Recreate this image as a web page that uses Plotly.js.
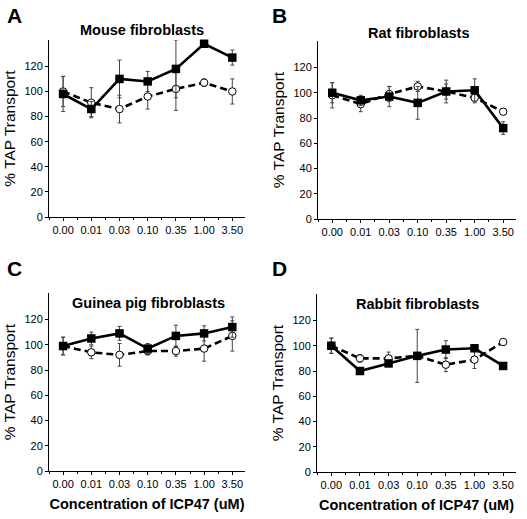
<!DOCTYPE html>
<html><head><meta charset="utf-8">
<script src="https://cdn.plot.ly/plotly-3.0.1.min.js"></script>
<style>html,body{margin:0;padding:0;background:#fff}#chart{width:527px;height:519px}</style>
</head><body><div id="chart"></div>
<script>
// Tick labels (ICP47 concentration, uM)
const concentrations = ["0.00","0.01","0.03","0.10","0.35","1.00","3.50"];
const panelTitles = ["Mouse fibroblasts","Rat fibroblasts","Guinea pig fibroblasts","Rabbit fibroblasts"];
const panelLetters = ["A","B","C","D"];

// Solid line, filled squares
const mouseSquares   = [98, 86, 110, 108, 118, 138, 127];
const mouseSquaresErr= [14, 6, 15, 8, 23, 2, 6];
const mouseCircles   = [100, 91, 86, 96, 102, 107, 100];
const mouseCirclesErr= [12, 12, 11, 10, 17, 3, 10];

const ratSquares     = [100, 94, 97, 92, 101, 102, 72];
const ratSquaresErr  = [8, 4, 8, 13, 9, 9, 5];
const ratCircles     = [98, 91, 99, 105, 101, 96, 85];
const ratCirclesErr  = [10, 6, 6, 4, 6, 4, 0];

const guineaSquares    = [99, 105, 109, 97, 107, 109, 114];
const guineaSquaresErr = [7, 5, 5.5, 4, 8.5, 6, 8];
const guineaCircles    = [99, 94, 92, 95, 95, 97, 107];
const guineaCirclesErr = [7, 5, 9, 3, 4, 10, 12];

const rabbitSquares    = [100, 80, 86, 92, 97, 98, 84];
const rabbitSquaresErr = [6, 0, 0, 21, 7, 0, 0];
const rabbitCircles    = [100, 90, 90, 92, 85, 89, 103];
const rabbitCirclesErr = [6, 3, 5, 0, 5.5, 7, 0];

const yTicks = [0, 20, 40, 60, 80, 100, 120];

const panels = [
  {sq: mouseSquares, sqE: mouseSquaresErr, ci: mouseCircles, ciE: mouseCirclesErr},
  {sq: ratSquares, sqE: ratSquaresErr, ci: ratCircles, ciE: ratCirclesErr},
  {sq: guineaSquares, sqE: guineaSquaresErr, ci: guineaCircles, ciE: guineaCirclesErr},
  {sq: rabbitSquares, sqE: rabbitSquaresErr, ci: rabbitCircles, ciE: rabbitCirclesErr}
];

const W = 527, H = 519;
// plot-area pixel boxes [left, right, top, bottom]
const boxes = [[49,245,40,217],[318,516,41,219],[49,245,293,471],[317,516,294,472]];
// title centre positions [x, y] in pixels
const titlePos = [[142,30],[419,33],[148,303],[417,304]];
const FONT = "Arial, 'Liberation Sans', Helvetica, sans-serif";
const xIdx = concentrations.map((c,i)=>i);

const traces = [];
const layout = {
  width: W, height: H,
  margin: {l:0,r:0,t:0,b:0},
  paper_bgcolor: "#fff", plot_bgcolor: "#fff",
  showlegend: false,
  font: {family: FONT, color: "#000"},
  annotations: []
};

panels.forEach((p, k) => {
  const n = k === 0 ? "" : String(k+1);
  const xa = "x" + n, ya = "y" + n;
  const eb = (arr) => ({type:"data", array: arr, visible: true, color:"#444", thickness: 1, width: 2});
  traces.push({
    x: xIdx, y: p.ci, xaxis: xa, yaxis: ya, type: "scatter", mode: "lines+markers",
    line: {color:"#000", width: 2.6, dash: "7px,4px"},
    marker: {symbol:"circle", size: 7.5, color:"#fff", line:{color:"#000", width:1}},
    error_y: eb(p.ciE), cliponaxis: false
  });
  traces.push({
    x: xIdx, y: p.sq, xaxis: xa, yaxis: ya, type: "scatter", mode: "lines+markers",
    line: {color:"#000", width: 2.6},
    marker: {symbol:"square", size: 8.5, color:"#000"},
    error_y: eb(p.sqE), cliponaxis: false
  });
  const b = boxes[k];
  layout["xaxis" + n] = {
    domain: [b[0]/W, b[1]/W], anchor: ya,
    range: [-0.5, 6.45], tickvals: xIdx, ticktext: concentrations,
    showline: true, linecolor: "#000", linewidth: 1, showgrid: false, zeroline: false,
    ticks: "outside", ticklen: 3, tickcolor: "#000", tickwidth: 1,
    minor: {dtick: 0.5, tick0: 0, ticks: "outside", ticklen: 2, tickcolor:"#000", showgrid:false},
    tickfont: {size: 11, family: FONT, color:"#000"},
    fixedrange: true,
    title: k >= 2 ? {text: "<b>Concentration of ICP47 (uM)</b>", font: {size: 14.5, family: FONT}, standoff: 9} : {text: ""}
  };
  layout["yaxis" + n] = {
    domain: [1 - b[3]/H, 1 - b[2]/H], anchor: xa,
    range: [0, 141], tickvals: yTicks,
    showline: true, linecolor: "#000", linewidth: 1, showgrid: false, zeroline: false,
    ticks: "outside", ticklen: 3, tickcolor: "#000",
    tickfont: {size: 11, family: FONT, color:"#000"},
    fixedrange: true,
    title: {text: "% TAP Transport", font: {size: 15.5, family: FONT}, standoff: 5}
  };
  layout.annotations.push({
    xref: "paper", yref: "paper", x: titlePos[k][0]/W, y: 1 - titlePos[k][1]/H,
    xanchor: "center", yanchor: "middle", showarrow: false,
    text: "<b>" + panelTitles[k] + "</b>", font: {size: 14.5, family: FONT}
  });
  layout.annotations.push({
    xref: "paper", yref: "paper", x: (k % 2 === 0 ? 5 : 270)/W, y: 1 - (k < 2 ? 16 : 269)/H,
    xanchor: "left", yanchor: "middle", showarrow: false,
    text: "<b>" + panelLetters[k] + "</b>", font: {size: 21, family: FONT}
  });
});

Plotly.newPlot("chart", traces, layout, {staticPlot: true, displayModeBar: false});
</script></body></html>
